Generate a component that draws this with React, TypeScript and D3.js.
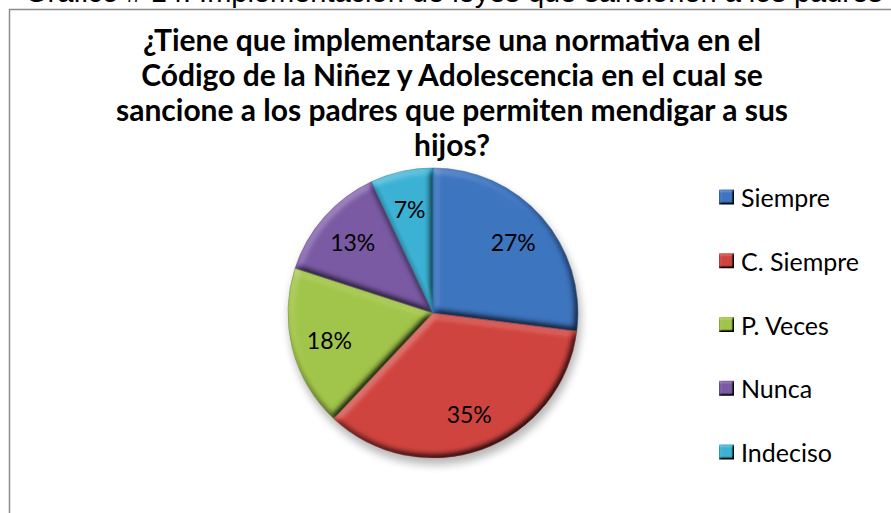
import React from "react";
import * as d3 from "d3";

const categories = ["Siempre", "C. Siempre", "P. Veces", "Nunca", "Indeciso"];
const values = [27, 35, 18, 13, 7];
const colors = ["#3e75c0", "#d1443f", "#a2c54a", "#7b5aa5", "#3bb2d4"];
const darkColors = ["#2c5894", "#9a2e2b", "#72902f", "#563c7a", "#23809c"];
const titleLines = [
  "¿Tiene que implementarse una normativa en el",
  "Código de la Niñez y Adolescencia en el cual se",
  "sancione a los padres que permiten mendigar a sus",
  "hijos?",
];
const headerText = "Gráfico # 14: Implementación de leyes que sancionen a los padres";

const W = 891;
const H = 513;
const cx = 433;
const cy = 313;
const R = 145;
const FONT = "Lato, 'Open Sans', sans-serif";

function Bevel({ id, std, scale }: { id: string; std: number; scale: number }) {
  return (
    <filter id={id} x="-10%" y="-10%" width="120%" height="120%" colorInterpolationFilters="sRGB">
      <feGaussianBlur in="SourceAlpha" stdDeviation={std} result="blur" />
      <feDiffuseLighting in="blur" surfaceScale={scale} diffuseConstant="1" lightingColor="#fff" result="diff">
        <feDistantLight azimuth={235} elevation={60} />
      </feDiffuseLighting>
      <feComponentTransfer in="diff" result="shade">
        <feFuncR type="linear" slope="0.9" intercept="-0.279" />
        <feFuncG type="linear" slope="0.9" intercept="-0.279" />
        <feFuncB type="linear" slope="0.9" intercept="-0.279" />
      </feComponentTransfer>
      <feBlend in="shade" in2="SourceGraphic" mode="hard-light" result="lit" />
      <feComposite in="lit" in2="SourceAlpha" operator="in" />
    </filter>
  );
}

export default function App() {
  const pie = d3.pie<number>().sort(null).value((d) => d)(values);
  const arc = d3.arc<d3.PieArcDatum<number>>().innerRadius(0).outerRadius(R);
  const labelArc = d3.arc<d3.PieArcDatum<number>>().innerRadius(107 * 2 - R).outerRadius(R);
  const total = d3.sum(values);
  const legendY = d3.scalePoint<string>().domain(categories).range([197, 452]);

  return (
    <svg width={W} height={H} style={{ position: "absolute", left: 0, top: 0, background: "#fff" }}>
      <defs>
        <filter id="shadow" x="-20%" y="-20%" width="140%" height="140%">
          <feGaussianBlur stdDeviation="4" />
        </filter>
        <Bevel id="bevel" std={3.5} scale={3} />
        <Bevel id="bevelSmall" std={1.2} scale={2} />
      </defs>
      <rect x={9.5} y={9.5} width={W + 10} height={H + 10} fill="none" stroke="#8c8c8c" strokeWidth={1.5} />
      <text x={25} y={2} fontFamily="'Liberation Sans', Arial, sans-serif" fontSize={29} fill="#000">
        {headerText}
      </text>
      {titleLines.map((t, i) => (
        <text
          key={i}
          x={452}
          y={51 + i * 35}
          textAnchor="middle"
          fontFamily={FONT}
          fontWeight="bold"
          fontSize={30}
          fill="#000"
        >
          {t}
        </text>
      ))}
      <g transform={`translate(${cx},${cy})`}>
        <circle cx={2} cy={6} r={R + 1} fill="#000" opacity={0.28} filter="url(#shadow)" />
        {pie.map((p, i) => (
          <path key={i} d={arc(p)!} fill={colors[i]} filter="url(#bevel)" />
        ))}
        {pie.map((p, i) => (
          <path key={`s${i}`} d={arc(p)!} fill="none" stroke={darkColors[i]} strokeOpacity={0.6} strokeWidth={0.8} />
        ))}
        {pie.map((p, i) => {
          const [x, y] = labelArc.centroid(p);
          return (
            <text
              key={i}
              x={x}
              y={y}
              textAnchor="middle"
              dominantBaseline="central"
              fontFamily={FONT}
              fontSize={23}
              fill="#000"
            >
              {`${Math.round((values[i] / total) * 100)}%`}
            </text>
          );
        })}
      </g>
      {categories.map((c, i) => {
        const y = legendY(c)!;
        return (
          <g key={c}>
            <rect x={719} y={y - 7.5} width={15} height={15} fill={colors[i]} filter="url(#bevelSmall)" />
            <text x={741} y={y} dominantBaseline="central" fontFamily={FONT} fontSize={25} fill="#000">
              {c}
            </text>
          </g>
        );
      })}
    </svg>
  );
}
